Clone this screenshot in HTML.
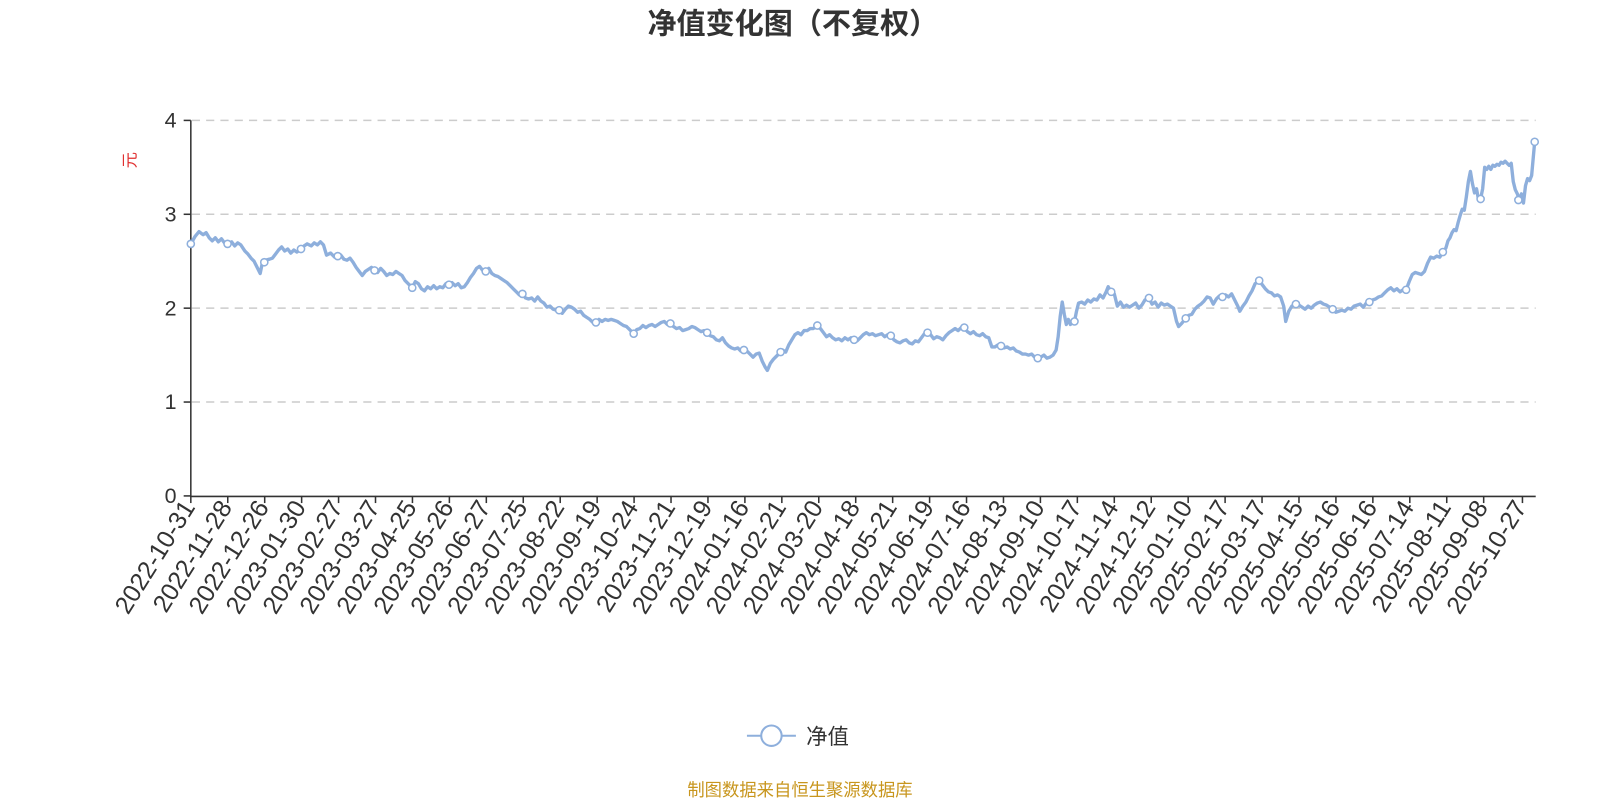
<!DOCTYPE html>
<html><head><meta charset="utf-8"><style>
html,body{margin:0;padding:0;background:#fff;}
svg{display:block;}
text{font-family:"Liberation Sans","Noto Sans CJK SC",sans-serif;}
</style></head><body>
<svg width="1600" height="800" viewBox="0 0 1568 784" preserveAspectRatio="none" xmlns="http://www.w3.org/2000/svg">
<text x="777" y="33" text-anchor="middle" font-size="28.5" font-weight="bold" fill="#333">净值变化图（不复权）</text>
<text x="133" y="157" font-size="16" fill="#e03030" transform="rotate(-90 133 157)" text-anchor="middle">元</text>
<g stroke="#ccc" stroke-dasharray="8,6" stroke-width="1.5">
<line x1="188" y1="118" x2="1505" y2="118"/><line x1="188" y1="210" x2="1505" y2="210"/><line x1="188" y1="302" x2="1505" y2="302"/><line x1="188" y1="394" x2="1505" y2="394"/>
</g>
<g stroke="#333" stroke-width="1.5">
<line x1="187" y1="118" x2="187" y2="487"/><line x1="187" y1="486.5" x2="1505" y2="486.5"/>
<line x1="180" y1="118" x2="187" y2="118"/><line x1="180" y1="210" x2="187" y2="210"/><line x1="180" y1="302" x2="187" y2="302"/><line x1="180" y1="394" x2="187" y2="394"/><line x1="180" y1="486" x2="187" y2="486"/>
<line x1="187" y1="486" x2="187" y2="493"/><line x1="223.2" y1="486" x2="223.2" y2="493"/><line x1="259.4" y1="486" x2="259.4" y2="493"/><line x1="295.6" y1="486" x2="295.6" y2="493"/><line x1="331.8" y1="486" x2="331.8" y2="493"/><line x1="368" y1="486" x2="368" y2="493"/><line x1="404.2" y1="486" x2="404.2" y2="493"/><line x1="440.4" y1="486" x2="440.4" y2="493"/><line x1="476.6" y1="486" x2="476.6" y2="493"/><line x1="512.8" y1="486" x2="512.8" y2="493"/><line x1="549" y1="486" x2="549" y2="493"/><line x1="585.2" y1="486" x2="585.2" y2="493"/><line x1="621.4" y1="486" x2="621.4" y2="493"/><line x1="657.6" y1="486" x2="657.6" y2="493"/><line x1="693.8" y1="486" x2="693.8" y2="493"/><line x1="730" y1="486" x2="730" y2="493"/><line x1="766.2" y1="486" x2="766.2" y2="493"/><line x1="802.4" y1="486" x2="802.4" y2="493"/><line x1="838.6" y1="486" x2="838.6" y2="493"/><line x1="874.8" y1="486" x2="874.8" y2="493"/><line x1="911" y1="486" x2="911" y2="493"/><line x1="947.2" y1="486" x2="947.2" y2="493"/><line x1="983.4" y1="486" x2="983.4" y2="493"/><line x1="1019.6" y1="486" x2="1019.6" y2="493"/><line x1="1055.8" y1="486" x2="1055.8" y2="493"/><line x1="1092" y1="486" x2="1092" y2="493"/><line x1="1128.2" y1="486" x2="1128.2" y2="493"/><line x1="1164.4" y1="486" x2="1164.4" y2="493"/><line x1="1200.6" y1="486" x2="1200.6" y2="493"/><line x1="1236.8" y1="486" x2="1236.8" y2="493"/><line x1="1273" y1="486" x2="1273" y2="493"/><line x1="1309.2" y1="486" x2="1309.2" y2="493"/><line x1="1345.4" y1="486" x2="1345.4" y2="493"/><line x1="1381.6" y1="486" x2="1381.6" y2="493"/><line x1="1417.8" y1="486" x2="1417.8" y2="493"/><line x1="1454" y1="486" x2="1454" y2="493"/><line x1="1492" y1="486" x2="1492" y2="493"/>
</g>
<g font-size="21" fill="#333" text-anchor="end">
<text x="173" y="125">4</text><text x="173" y="217">3</text><text x="173" y="309">2</text><text x="173" y="401">1</text><text x="173" y="493">0</text>
</g>
<g font-size="24.5" fill="#333" text-anchor="end">
<text transform="translate(192,497) rotate(-58)">2022-10-31</text>
<text transform="translate(228.2,497) rotate(-58)">2022-11-28</text>
<text transform="translate(264.4,497) rotate(-58)">2022-12-26</text>
<text transform="translate(300.6,497) rotate(-58)">2023-01-30</text>
<text transform="translate(336.8,497) rotate(-58)">2023-02-27</text>
<text transform="translate(373,497) rotate(-58)">2023-03-27</text>
<text transform="translate(409.2,497) rotate(-58)">2023-04-25</text>
<text transform="translate(445.4,497) rotate(-58)">2023-05-26</text>
<text transform="translate(481.6,497) rotate(-58)">2023-06-27</text>
<text transform="translate(517.8,497) rotate(-58)">2023-07-25</text>
<text transform="translate(554,497) rotate(-58)">2023-08-22</text>
<text transform="translate(590.2,497) rotate(-58)">2023-09-19</text>
<text transform="translate(626.4,497) rotate(-58)">2023-10-24</text>
<text transform="translate(662.6,497) rotate(-58)">2023-11-21</text>
<text transform="translate(698.8,497) rotate(-58)">2023-12-19</text>
<text transform="translate(735,497) rotate(-58)">2024-01-16</text>
<text transform="translate(771.2,497) rotate(-58)">2024-02-21</text>
<text transform="translate(807.4,497) rotate(-58)">2024-03-20</text>
<text transform="translate(843.6,497) rotate(-58)">2024-04-18</text>
<text transform="translate(879.8,497) rotate(-58)">2024-05-21</text>
<text transform="translate(916,497) rotate(-58)">2024-06-19</text>
<text transform="translate(952.2,497) rotate(-58)">2024-07-16</text>
<text transform="translate(988.4,497) rotate(-58)">2024-08-13</text>
<text transform="translate(1024.6,497) rotate(-58)">2024-09-10</text>
<text transform="translate(1060.8,497) rotate(-58)">2024-10-17</text>
<text transform="translate(1097,497) rotate(-58)">2024-11-14</text>
<text transform="translate(1133.2,497) rotate(-58)">2024-12-12</text>
<text transform="translate(1169.4,497) rotate(-58)">2025-01-10</text>
<text transform="translate(1205.6,497) rotate(-58)">2025-02-17</text>
<text transform="translate(1241.8,497) rotate(-58)">2025-03-17</text>
<text transform="translate(1278,497) rotate(-58)">2025-04-15</text>
<text transform="translate(1314.2,497) rotate(-58)">2025-05-16</text>
<text transform="translate(1350.4,497) rotate(-58)">2025-06-16</text>
<text transform="translate(1386.6,497) rotate(-58)">2025-07-14</text>
<text transform="translate(1422.8,497) rotate(-58)">2025-08-11</text>
<text transform="translate(1459,497) rotate(-58)">2025-09-08</text>
<text transform="translate(1497,497) rotate(-58)">2025-10-27</text>
</g>
<polyline fill="none" stroke="#8eafdc" stroke-width="3.3" stroke-linejoin="round" points="187,239 191,232 195,227 199,230 202,228 205,233 208,236 211,233 214,237 217,234 220,238 223,239 227,237 230,241 233,238 236,240 240,246 243,249 246,253 249,256 252,262 255,268 257,258 260,255 264,254 267,253 270,249 273,245 276,242 279,246 282,244 285,248 288,245 291,247 295,244 298,241 301,239 305,241 308,238 311,240 314,237 317,240 320,250 324,248 328,252 331,251 334,250 337,254 340,255 343,253 346,257 349,262 352,266 355,270 358,266 361,264 364,262 367,265 370,267 373,263 376,266 379,270 382,268 385,269 388,266 391,268 394,270 397,275 401,279 404,282 407,276 410,278 413,283 416,285 419,281 422,283 425,280 428,283 431,281 434,282 437,278 440,279 443,277 446,280 449,278 452,282 455,281 458,277 461,272 464,268 467,263 470,261 473,265 476,266 479,263 482,268 485,270 488,271 491,273 494,275 497,277 500,280 503,283 506,286 509,289 512,288 515,292 518,293 521,292 524,295 527,291 530,295 533,297 536,301 539,300 542,303 545,304 548,304 551,307 554,303 557,300 560,301 563,303 566,306 569,305 572,309 575,311 578,313 581,316 584,316 587,313 590,315 593,313 596,314 599,313 602,314 605,315 608,317 611,319 614,320 617,323 621,327 624,323 627,322 630,319 633,321 636,319 639,318 642,320 645,318 648,316 651,315 654,318 657,317 660,320 663,322 666,321 669,324 672,323 675,322 678,320 681,321 684,323 687,325 690,324 693,326 696,329 699,330 702,333 705,334 708,331 711,336 714,339 717,341 720,342 723,341 726,344 729,343 732,344 735,347 738,350 741,347 744,346 747,354 750,360 752,363 755,356 758,352 761,349 764,346 767,343 770,345 773,338 776,333 779,328 782,326 785,328 788,324 791,324 794,322 797,322 801,319 804,322 807,326 810,330 813,328 816,331 819,333 822,332 825,334 828,331 831,333 834,331 837,333 840,334 843,331 846,328 849,326 852,328 855,327 858,329 861,328 864,327 867,330 870,328 873,329 876,333 879,335 882,336 885,334 888,333 891,336 894,337 897,334 900,335 903,331 906,327 909,326 912,328 915,332 918,330 921,331 924,333 927,329 930,326 933,324 936,322 939,324 942,321 945,321 948,325 951,327 954,325 957,328 960,329 963,327 966,330 969,331 972,340 975,340 978,338 981,339 984,341 987,340 990,342 993,341 996,344 999,345 1002,347 1005,347 1008,348 1011,347 1014,350 1017,351 1020,350 1023,348 1026,351 1029,350 1032,348 1035,343 1037,330 1039,310 1041,296 1043,308 1045,318 1047,313 1049,318 1051,316 1053,315 1055,305 1057,297 1060,296 1063,298 1066,294 1069,296 1072,293 1075,294 1078,289 1081,292 1084,286 1086,281 1089,286 1092,288 1095,300 1098,296 1101,301 1104,299 1107,301 1110,299 1113,297 1116,302 1119,299 1122,294 1126,292 1129,298 1132,296 1135,301 1138,297 1141,299 1144,298 1147,300 1150,302 1153,315 1155,320 1158,317 1162,312 1165,309 1168,308 1171,303 1174,300 1177,298 1180,295 1183,291 1186,292 1189,298 1192,293 1195,290 1198,291 1201,289 1204,291 1207,288 1210,294 1213,300 1215,305 1218,300 1221,296 1224,290 1227,285 1230,278 1234,275 1237,279 1240,283 1243,286 1246,287 1249,290 1252,289 1255,291 1258,300 1260,315 1263,305 1266,300 1270,298 1273,299 1276,301 1279,303 1282,300 1285,302 1288,299 1291,297 1294,296 1297,298 1300,299 1303,301 1306,303 1309,306 1312,305 1315,304 1318,305 1321,302 1324,303 1327,300 1330,299 1333,298 1336,301 1339,297 1342,296 1345,294 1348,293 1351,291 1354,290 1357,287 1360,284 1363,282 1366,285 1369,283 1372,286 1375,284 1378,284 1381,276 1384,269 1387,267 1390,268 1393,269 1396,266 1399,258 1402,252 1405,253 1408,251 1411,252 1414,247 1417,243 1419,236 1421,233 1423,228 1425,225 1427,226 1429,218 1431,211 1433,205 1435,206 1437,193 1439,178 1441,168 1443,180 1445,189 1447,185 1449,196 1451,195 1453,185 1455,164 1457,166 1459,163 1461,166 1463,162 1465,163 1467,161 1469,162 1471,159 1473,160 1475,158 1477,160 1479,162 1481,160 1483,178 1485,186 1487,190 1489,196 1491,190 1493,199 1495,182 1497,175 1499,177 1501,172 1504,139"/>
<g fill="#fff" stroke="#8eafdc" stroke-width="1.5">
<circle cx="187" cy="239" r="3.5"/><circle cx="223" cy="239" r="3.5"/><circle cx="259" cy="257" r="3.5"/><circle cx="295" cy="244" r="3.5"/><circle cx="331" cy="251" r="3.5"/><circle cx="367" cy="265" r="3.5"/><circle cx="404" cy="282" r="3.5"/><circle cx="440" cy="279" r="3.5"/><circle cx="476" cy="266" r="3.5"/><circle cx="512" cy="288" r="3.5"/><circle cx="548" cy="304" r="3.5"/><circle cx="584" cy="316" r="3.5"/><circle cx="621" cy="327" r="3.5"/><circle cx="657" cy="317" r="3.5"/><circle cx="693" cy="326" r="3.5"/><circle cx="729" cy="343" r="3.5"/><circle cx="765" cy="345" r="3.5"/><circle cx="801" cy="319" r="3.5"/><circle cx="837" cy="333" r="3.5"/><circle cx="873" cy="329" r="3.5"/><circle cx="909" cy="326" r="3.5"/><circle cx="945" cy="321" r="3.5"/><circle cx="981" cy="339" r="3.5"/><circle cx="1017" cy="351" r="3.5"/><circle cx="1053" cy="315" r="3.5"/><circle cx="1089" cy="286" r="3.5"/><circle cx="1126" cy="292" r="3.5"/><circle cx="1162" cy="312" r="3.5"/><circle cx="1198" cy="291" r="3.5"/><circle cx="1234" cy="275" r="3.5"/><circle cx="1270" cy="298" r="3.5"/><circle cx="1306" cy="303" r="3.5"/><circle cx="1342" cy="296" r="3.5"/><circle cx="1378" cy="284" r="3.5"/><circle cx="1414" cy="247" r="3.5"/><circle cx="1451" cy="195" r="3.5"/><circle cx="1488" cy="196" r="3.5"/><circle cx="1504" cy="139" r="3.5"/>
</g>
<line x1="732" y1="721" x2="780" y2="721" stroke="#8eafdc" stroke-width="2"/>
<circle cx="756" cy="721" r="10" fill="#fff" stroke="#8eafdc" stroke-width="2"/>
<text x="790" y="729" font-size="21" fill="#333">净值</text>
<text x="784" y="780" font-size="17" fill="#c8961e" text-anchor="middle">制图数据来自恒生聚源数据库</text>
</svg>
</body></html>
